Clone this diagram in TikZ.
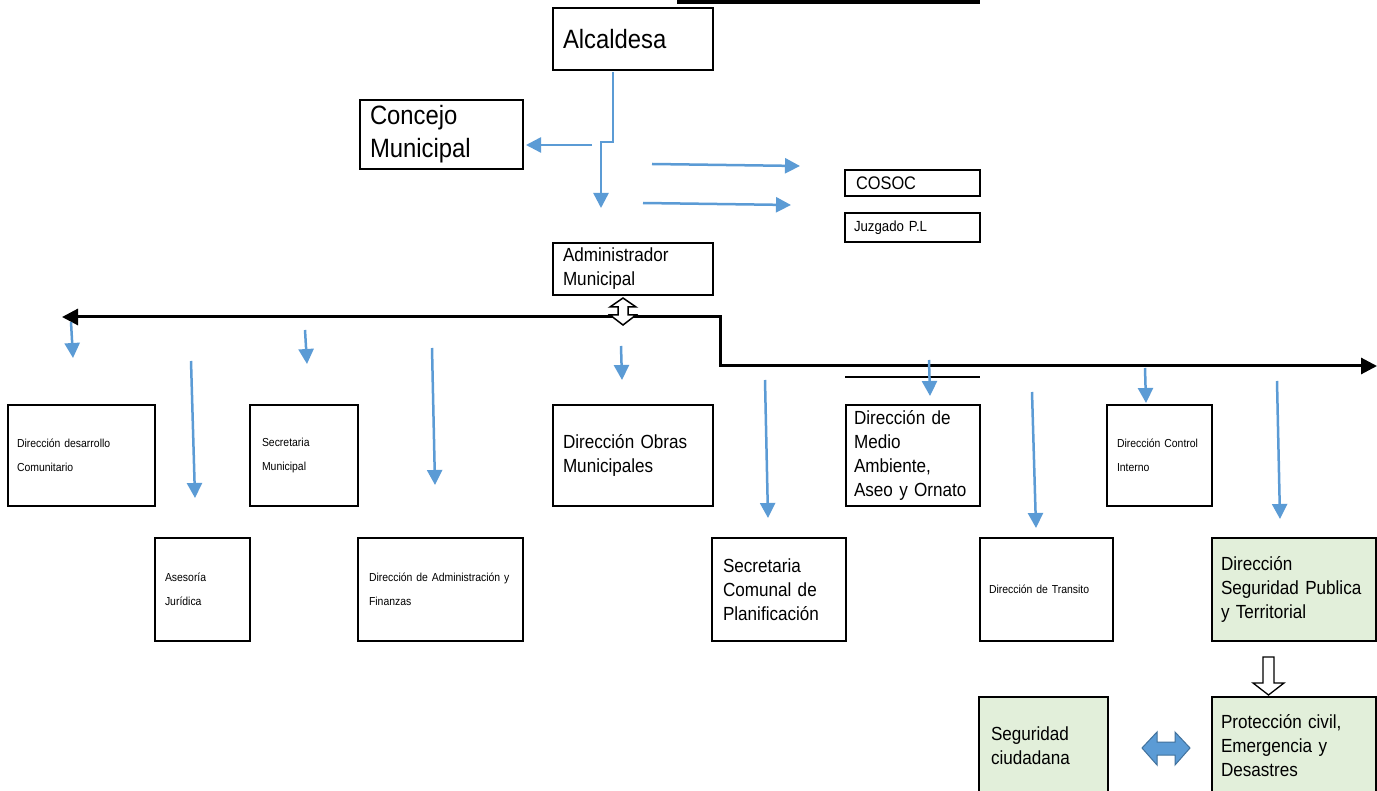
\documentclass[tikz,border=0pt]{standalone}
\usepackage{fontspec}
\setmainfont{Liberation Sans}[FakeStretch=0.9]
\usetikzlibrary{arrows.meta}
\definecolor{bl}{HTML}{5B9BD5}
\definecolor{bld}{HTML}{41719C}
\definecolor{gr}{HTML}{E2EFDA}
\begin{document}
\begin{tikzpicture}[x=1pt,y=-1pt,
 box/.style={draw=black,line width=2pt,anchor=north west,inner ysep=0pt,align=left,outer sep=0pt},
 thinbox/.style={box,line width=1.1pt},
 greenbox/.style={box,fill=gr},
 big/.style={font=\fontsize{26.5}{33}\selectfont},
 mid/.style={font=\fontsize{19}{24}\selectfont},
 cos/.style={font=\fontsize{18.2}{20}\selectfont},
 juz/.style={font=\fontsize{14.7}{16}\selectfont},
 small/.style={font=\fontsize{11.6}{24.5}\selectfont},
 barrow/.style={draw=bl,line width=2.5pt,-{Triangle[width=15pt,length=15pt]}},
 mainline/.style={draw=black,line width=3pt,{Triangle[width=16pt,length=16pt]}-{Triangle[width=16pt,length=16pt]}},
]
\useasboundingbox (0,0) rectangle (1377,791);
\fill[white] (0,0) rectangle (1377,791);

% top bar
\coordinate (tb1) at (677,1.5);
\coordinate (tb2) at (980,1.5);
\draw[line width=4.5pt] (tb1) -- (tb2);

% boxes
\node[box,big,minimum width=160pt,minimum height=62pt,inner xsep=10pt,text width=140pt] (alc) at (553,8) {Alcaldesa};
\node[box,big,minimum width=163pt,minimum height=69pt,inner xsep=10pt,text width=143pt] (con) at (360,100) {Concejo\\Municipal};
\node[thinbox,cos,minimum width=135pt,minimum height=26pt,inner xsep=11pt,text width=113pt] (cosoc) at (845,170) {COSOC};
\node[thinbox,juz,minimum width=135pt,minimum height=29pt,inner xsep=9pt,text width=117pt] (juzg) at (845,213) {\raisebox{3pt}{Juzgado P.L}};
\node[box,mid,minimum width=160pt,minimum height=52pt,inner xsep=10pt,text width=140pt] (adm) at (553,243) {Administrador\\Municipal};

\node[box,small,minimum width=147pt,minimum height=101pt,inner xsep=9pt,text width=129pt] (ddc) at (8,405) {Dirección desarrollo\\Comunitario};
\node[box,small,minimum width=95pt,minimum height=103pt,inner xsep=10pt,text width=75pt] (asj) at (155,538) {Asesoría\\Jurídica};
\node[box,small,minimum width=108pt,minimum height=101pt,inner xsep=12pt,text width=84pt] (smu) at (250,405) {Secretaria\\Municipal};
\node[box,small,minimum width=165pt,minimum height=103pt,inner xsep=11pt,text width=143pt] (daf) at (358,538) {Dirección de Administración y\\Finanzas};
\node[box,mid,minimum width=160pt,minimum height=101pt,inner xsep=10pt,text width=140pt] (dom) at (553,405) {Dirección Obras\\Municipales};
\node[box,mid,minimum width=134pt,minimum height=103pt,inner xsep=11pt,text width=112pt] (scp) at (712,538) {Secretaria\\Comunal de\\Planificación};
\node[thinbox,mid,minimum width=134pt,minimum height=101pt,inner xsep=8pt,text width=118pt] (dma) at (846,405) {Dirección de\\Medio\\Ambiente,\\Aseo y Ornato};
\node[box,small,minimum width=133pt,minimum height=103pt,inner xsep=9pt,text width=115pt] (dtr) at (980,538) {Dirección de Transito};
\node[box,small,minimum width=105pt,minimum height=101pt,inner xsep=10pt,text width=85pt] (dci) at (1107,405) {Dirección Control\\Interno};
\node[greenbox,mid,minimum width=164pt,minimum height=103pt,inner xsep=9pt,text width=146pt] (dsp) at (1212,538) {Dirección\\Seguridad Publica\\y Territorial};
\node[greenbox,mid,minimum width=129pt,minimum height=97pt,inner xsep=12pt,text width=105pt] (sci) at (979,697) {Seguridad\\ciudadana};
\node[greenbox,mid,minimum width=164pt,minimum height=97pt,inner xsep=9pt,text width=146pt] (pci) at (1212,697) {Protección civil,\\Emergencia y\\Desastres};

% line above Medio Ambiente
\coordinate (ml1) at (845,377);
\coordinate (ml2) at (980,377);
\draw[line width=1.1pt] (ml1) -- (ml2);

% connector from Alcaldesa
\coordinate (a0) at (613,72);
\coordinate (a1) at (613,142);
\coordinate (a2) at (601,142);
\coordinate (a3) at (601,208);
\draw[barrow] (a0) -- (a1) -- (a2) -- (a3);
\coordinate (k0) at (592,145);
\coordinate (k1) at (526,145);
\draw[barrow] (k0) -- (k1);
\coordinate (r1a) at (652,164);
\coordinate (r1b) at (800,166);
\draw[barrow] (r1a) -- (r1b);
\coordinate (r2a) at (643,203);
\coordinate (r2b) at (791,205);
\draw[barrow] (r2a) -- (r2b);

% main line
\coordinate (Lend) at (62,317);
\coordinate (kn1) at (720,317);
\coordinate (kn2) at (720,366);
\coordinate (Rend) at (1377,366);
\draw[mainline] (Lend) -- (kn1) -- (kn2) -- (Rend);

% white double arrow between Administrador and main line
\draw[fill=white,line width=1.5pt,line join=miter]
 (623,298) -- (636,307) -- (628,307) -- (628,315) -- (636,315) -- (623,325)
 -- (610,315) -- (618,315) -- (618,307) -- (610,307) -- cycle;

% blue arrows to departments
\foreach \n/\xa/\ya/\xb/\yb in {a/71/322/73/358, b/191/361/195/498, c/305/330/307/364, d/432/348/435/485, e/621/346/622/380, f/765/380/768/518, g/929/360/930/396, h/1032/392/1036/528, i/1145/368/1146/403, j/1277/381/1280/519}{
 \coordinate (s\n) at (\xa,\ya);
 \coordinate (t\n) at (\xb,\yb);
 \draw[barrow] (s\n) -- (t\n);
}

% block arrow down from Seguridad Publica to Proteccion civil
\draw[fill=white,line width=1.3pt,line join=miter]
 (1263,657) -- (1274,657) -- (1274,683) -- (1284,683) -- (1268.5,695) -- (1253,683) -- (1263,683) -- cycle;

% blue double arrow
\draw[fill=bl,draw=bld,line width=1pt,line join=miter]
 (1142,748) -- (1157,732) -- (1157,742) -- (1175,742) -- (1175,732) -- (1190,748)
 -- (1175,765) -- (1175,755) -- (1157,755) -- (1157,765) -- cycle;
\end{tikzpicture}
\end{document}
